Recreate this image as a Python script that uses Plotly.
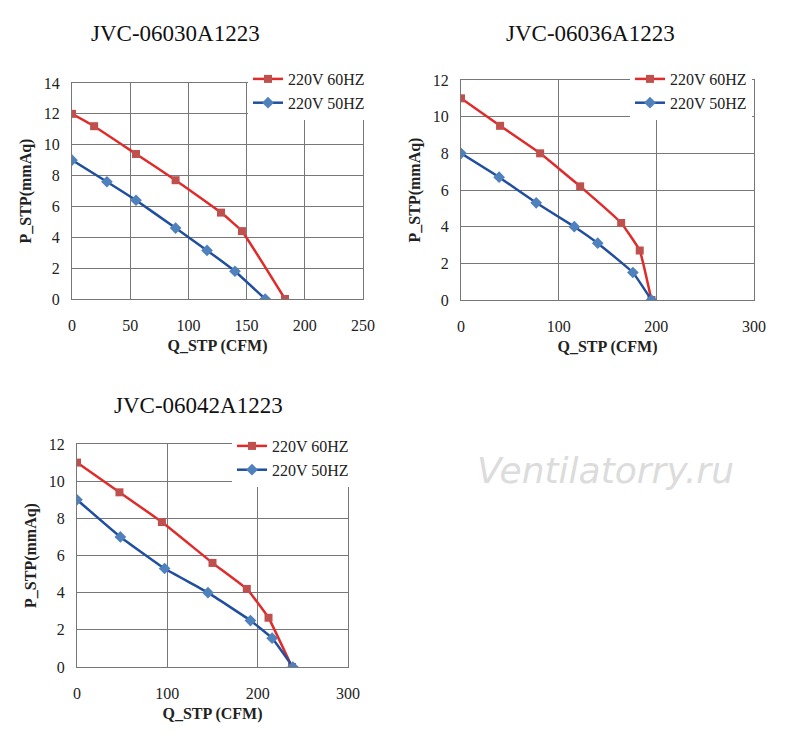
import plotly.graph_objects as go

# --- data ---
titles = ["JVC-06030A1223", "JVC-06036A1223", "JVC-06042A1223"]

q60_a = [0, 19, 55, 89, 128, 146, 183]
p60_a = [12, 11.2, 9.4, 7.7, 5.6, 4.4, 0]
q50_a = [0, 30, 55, 89, 116, 140, 166]
p50_a = [9, 7.6, 6.4, 4.6, 3.15, 1.8, 0]

q60_b = [0, 40, 81, 122, 164, 183, 195]
p60_b = [11, 9.5, 8, 6.2, 4.2, 2.7, 0]
q50_b = [0, 39, 77, 116, 140, 176, 195]
p50_b = [8, 6.7, 5.3, 4, 3.1, 1.5, 0]

q60_c = [0, 47, 94, 150, 188, 212, 238]
p60_c = [11, 9.4, 7.8, 5.6, 4.2, 2.65, 0]
q50_c = [0, 48, 97, 145, 192, 216, 239]
p50_c = [9, 7, 5.3, 4, 2.5, 1.55, 0]

x_max = [250, 300, 300]
y_max = [14, 12, 12]

RED = "#e02b2b"
BLUE = "#1f4f9e"
FONT = "Liberation Serif"
W, H, OFF = 800, 746, 8  # page body adds ~8px offset


def px_x(v):
    return (v - OFF) / W


def px_y(v):
    return 1 - (v - OFF) / H


fig = go.Figure()

panels = [
    (q60_a, p60_a, q50_a, p50_a),
    (q60_b, p60_b, q50_b, p50_b),
    (q60_c, p60_c, q50_c, p50_c),
]
# plot-area boxes in reference pixels: left, right, top, bottom
boxes = [(72, 363, 83, 299), (461, 754, 80, 300), (77, 348, 444, 667)]
legpos = [(248, 62), (630, 62), (232, 429)]
title_pos = [(175, 33), (590, 33), (198, 405)]

for i, (qa, pa, qb, pb) in enumerate(panels):
    n = "" if i == 0 else str(i + 1)
    leg = "legend" + n
    l, r, t, b = boxes[i]
    fig.add_trace(go.Scatter(
        x=qa, y=pa, name="220V 60HZ", mode="lines+markers",
        line=dict(color=RED, width=2.5, shape="spline", smoothing=0.3),
        marker=dict(symbol="square", size=8, color="#c0504d"),
        xaxis="x" + n, yaxis="y" + n, legend=leg))
    fig.add_trace(go.Scatter(
        x=qb, y=pb, name="220V 50HZ", mode="lines+markers",
        line=dict(color=BLUE, width=2.5, shape="spline", smoothing=0.3),
        marker=dict(symbol="diamond", size=9, color="#4f81bd"),
        xaxis="x" + n, yaxis="y" + n, legend=leg))

    axis_common = dict(showgrid=True, gridcolor="#777", gridwidth=1,
                       showline=True, linecolor="#777", mirror=True,
                       zeroline=False, ticks="", automargin=False,
                       tickfont=dict(family=FONT, size=16, color="#222"))
    fig.update_layout({
        "xaxis" + n: dict(axis_common, domain=[px_x(l), px_x(r)], anchor="y" + n,
                          range=[0, x_max[i]], dtick=50 if x_max[i] == 250 else 100,
                          ticklabelstandoff=12,
                          title=dict(text="<b>Q_STP (CFM)</b>", standoff=6,
                                     font=dict(family=FONT, size=16, color="#222"))),
        "yaxis" + n: dict(axis_common, domain=[px_y(b), px_y(t)], anchor="x" + n,
                          range=[0, y_max[i]], dtick=2, ticklabelstandoff=8,
                          title=dict(text="<b>P_STP(mmAq)</b>", standoff=8,
                                     font=dict(family=FONT, size=16, color="#222"))),
        leg: dict(x=px_x(legpos[i][0]), y=px_y(legpos[i][1]), xanchor="left", yanchor="top",
                  bgcolor="white", tracegroupgap=0,
                  font=dict(family=FONT, size=16, color="#222")),
    })
    fig.add_annotation(text=titles[i], xref="paper", yref="paper",
                       x=px_x(title_pos[i][0]), y=px_y(title_pos[i][1]),
                       xanchor="center", yanchor="middle", showarrow=False,
                       font=dict(family=FONT, size=23, color="#111"))

fig.add_annotation(text="<i>Ventilatorry.ru</i>", xref="paper", yref="paper",
                   x=px_x(605), y=px_y(470), xanchor="center", showarrow=False,
                   font=dict(family="DejaVu Sans", size=36, color="#dcdcdc"))

fig.update_layout(width=W, height=H,
                  margin=dict(l=0, r=0, t=0, b=0, autoexpand=False),
                  plot_bgcolor="white", paper_bgcolor="white")
fig.write_html("out.html")
